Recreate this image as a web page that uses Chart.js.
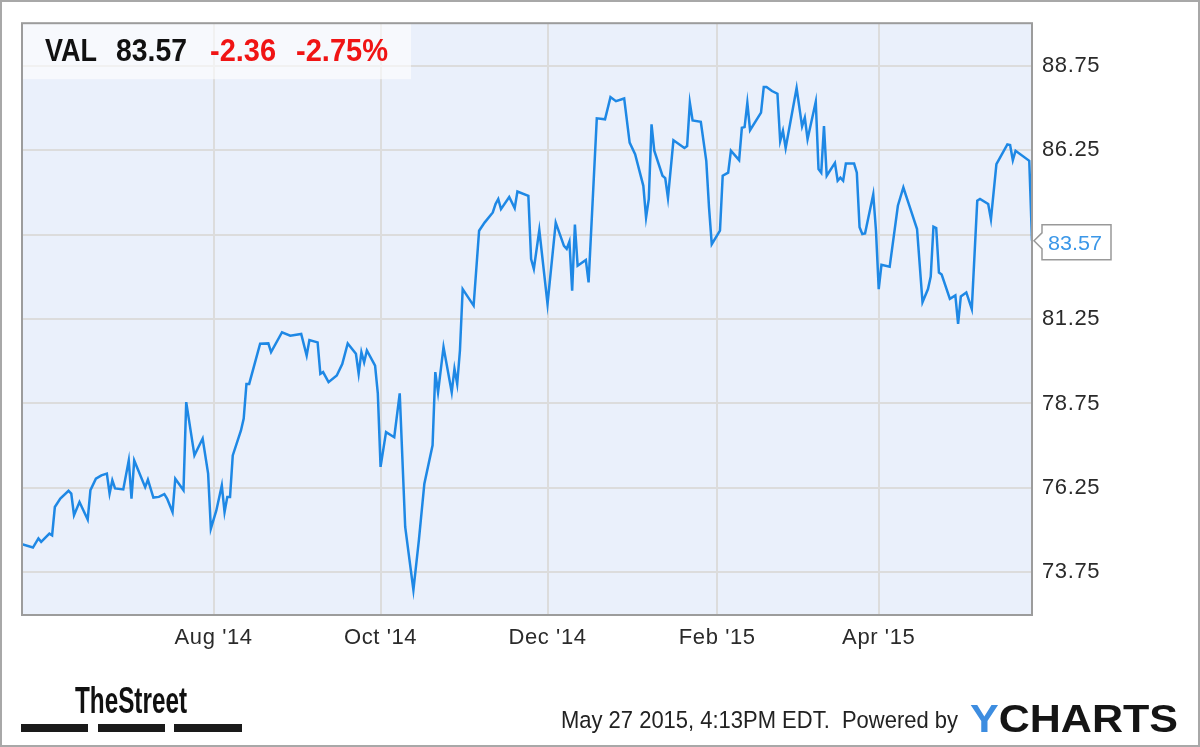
<!DOCTYPE html>
<html>
<head>
<meta charset="utf-8">
<script src="https://cdn.jsdelivr.net/npm/chart.js@4.4.1/dist/chart.umd.min.js"></script>
<style>
  html, body { margin: 0; padding: 0; background: #fff; }
  #wrap { width: 1200px; height: 747px; }
</style>
</head>
<body>
<div id="wrap"><canvas id="myChart" width="1200" height="747"></canvas></div>
<script>
// VAL daily close
var dates = [
  '2014-05-23','2014-05-27','2014-05-29','2014-05-30','2014-06-02','2014-06-03','2014-06-04','2014-06-06',
  '2014-06-09','2014-06-10','2014-06-11','2014-06-13','2014-06-16','2014-06-17','2014-06-19','2014-06-21',
  '2014-06-23','2014-06-24','2014-06-25','2014-06-26','2014-06-29','2014-07-01','2014-07-02','2014-07-03',
  '2014-07-07','2014-07-08','2014-07-10','2014-07-12','2014-07-14','2014-07-15','2014-07-17','2014-07-18',
  '2014-07-21','2014-07-22','2014-07-25','2014-07-28','2014-07-30','2014-07-31','2014-08-02','2014-08-04',
  '2014-08-05','2014-08-06','2014-08-07','2014-08-08','2014-08-11','2014-08-12','2014-08-13','2014-08-14',
  '2014-08-18','2014-08-21','2014-08-22','2014-08-26','2014-08-29','2014-09-02','2014-09-04','2014-09-05',
  '2014-09-08','2014-09-09','2014-09-10','2014-09-12','2014-09-15','2014-09-17','2014-09-19','2014-09-22',
  '2014-09-23','2014-09-24','2014-09-25','2014-09-26','2014-09-29','2014-09-30','2014-10-01','2014-10-03',
  '2014-10-06','2014-10-08','2014-10-10','2014-10-13','2014-10-15','2014-10-17','2014-10-20','2014-10-21',
  '2014-10-22','2014-10-24','2014-10-27','2014-10-28','2014-10-29','2014-10-30','2014-10-31','2014-11-04',
  '2014-11-06','2014-11-08','2014-11-11','2014-11-12','2014-11-13','2014-11-14','2014-11-17','2014-11-19',
  '2014-11-20','2014-11-24','2014-11-25','2014-11-26','2014-11-28','2014-12-01','2014-12-04','2014-12-07',
  '2014-12-08','2014-12-09','2014-12-10','2014-12-11','2014-12-12','2014-12-15','2014-12-16','2014-12-19',
  '2014-12-22','2014-12-24','2014-12-26','2014-12-29','2014-12-31','2015-01-02','2015-01-05','2015-01-06',
  '2015-01-07','2015-01-08','2015-01-09','2015-01-12','2015-01-13','2015-01-14','2015-01-16','2015-01-20',
  '2015-01-21','2015-01-22','2015-01-23','2015-01-26','2015-01-28','2015-01-29','2015-01-30','2015-02-02',
  '2015-02-03','2015-02-05','2015-02-06','2015-02-09','2015-02-10','2015-02-11','2015-02-12','2015-02-13',
  '2015-02-17','2015-02-18','2015-02-19','2015-02-21','2015-02-23','2015-02-24','2015-02-25','2015-02-26',
  '2015-03-02','2015-03-04','2015-03-05','2015-03-06','2015-03-09','2015-03-10','2015-03-11','2015-03-12',
  '2015-03-13','2015-03-16','2015-03-17','2015-03-18','2015-03-19','2015-03-20','2015-03-23','2015-03-24',
  '2015-03-25','2015-03-26','2015-03-27','2015-03-30','2015-03-31','2015-04-01','2015-04-02','2015-04-05',
  '2015-04-08','2015-04-10','2015-04-12','2015-04-15','2015-04-17','2015-04-19','2015-04-20','2015-04-21',
  '2015-04-22','2015-04-23','2015-04-24','2015-04-27','2015-04-29','2015-04-30','2015-05-01','2015-05-03',
  '2015-05-05','2015-05-07','2015-05-08','2015-05-11','2015-05-12','2015-05-14','2015-05-18','2015-05-19',
  '2015-05-20','2015-05-21','2015-05-26','2015-05-27'
]
var prices = [
  74.58, 74.48, 74.75, 74.65, 74.89, 74.84, 75.68, 75.93,
  76.16, 76.08, 75.44, 75.83, 75.31, 76.18, 76.52, 76.62,
  76.67, 76.08, 76.47, 76.23, 76.20, 77.06, 75.93, 77.06,
  76.27, 76.49, 75.96, 75.98, 76.06, 75.93, 75.53, 76.52,
  76.18, 78.79, 77.21, 77.71, 76.67, 75.04, 75.58, 76.32,
  75.53, 75.98, 75.98, 77.21, 77.95, 78.30, 79.33, 79.33,
  80.52, 80.53, 80.27, 80.86, 80.76, 80.81, 80.17, 80.63,
  80.56, 79.63, 79.68, 79.38, 79.58, 79.92, 80.53, 80.22,
  79.63, 80.27, 79.97, 80.32, 79.87, 79.04, 76.87, 77.90,
  77.75, 79.05, 75.09, 73.22, 74.70, 76.37, 77.51, 79.68,
  79.08, 80.42, 79.08, 79.78, 79.33, 80.32, 82.14, 81.65,
  83.87, 84.11, 84.41, 84.66, 84.81, 84.51, 84.87, 84.54,
  85.03, 84.90, 83.03, 82.74, 83.89, 81.70, 84.11, 83.42,
  83.33, 83.55, 82.09, 84.05, 82.83, 83.00, 82.34, 87.20,
  87.17, 87.83, 87.71, 87.79, 86.48, 86.14, 85.20, 84.26,
  84.81, 87.02, 86.24, 85.50, 85.43, 84.84, 86.55, 86.32,
  86.38, 87.66, 87.14, 87.10, 85.94, 84.56, 83.47, 83.87,
  85.50, 85.59, 86.24, 85.96, 86.92, 86.94, 87.66, 86.85,
  87.37, 88.13, 88.13, 88.01, 87.93, 86.53, 86.83, 86.32,
  88.10, 86.96, 87.22, 86.58, 87.69, 85.70, 85.59, 86.97,
  85.50, 85.88, 85.35, 85.44, 85.35, 85.86, 85.86, 85.59,
  83.97, 83.77, 83.79, 84.95, 83.87, 82.14, 82.86, 82.80,
  84.61, 85.15, 84.66, 83.92, 81.75, 82.14, 82.51, 83.99,
  83.95, 82.63, 82.57, 81.85, 81.95, 81.11, 81.92, 82.04,
  81.55, 84.76, 84.81, 84.66, 84.21, 85.84, 86.43, 86.41,
  85.96, 86.24, 85.94, 83.57
]
var tickDates = ['2014-08-01', '2014-10-01', '2014-12-01', '2015-02-01', '2015-04-01']
var tickLabels = ["Aug '14", "Oct '14", "Dec '14", "Feb '15", "Apr '15"]
var priceTicks = [73.75, 76.25, 78.75, 81.25, 83.75, 86.25, 88.75]

var ticker = 'VAL'
var lastPrice = 83.57
var change = '-2.36'
var changePct = '-2.75%'
var stamp = 'May 27 2015, 4:13PM EDT.  Powered by'

var FONT = '"Liberation Sans", Arial, sans-serif'

function dayNum(s) {
  var p = s.split('-')
  return Date.UTC(+p[0], +p[1] - 1, +p[2]) / 86400000
}

// draw text squeezed/stretched to a given width (and optional vertical stretch)
function fitText(ctx, text, x, baseline, width, font, color, sy) {
  ctx.save()
  ctx.letterSpacing = '0px'
  ctx.font = font
  ctx.fillStyle = color
  ctx.textAlign = 'left'
  ctx.textBaseline = 'alphabetic'
  var w = ctx.measureText(text).width
  ctx.translate(x, baseline)
  ctx.scale(width / w, sy || 1)
  ctx.fillText(text, 0, 0)
  ctx.restore()
}

var points = []
for (var i in dates) {
  points.push({ x: dayNum(dates[i]), y: prices[i] })
}

var decor = {
  id: 'decor',
  beforeDraw: function(chart) {
    var ctx = chart.ctx, a = chart.chartArea
    ctx.save()
    ctx.fillStyle = '#ffffff'
    ctx.fillRect(0, 0, chart.width, chart.height)
    ctx.fillStyle = '#eaf0fb'
    ctx.fillRect(a.left, a.top, a.right - a.left, a.bottom - a.top)
    ctx.restore()
    // spaced tick lettering
    ctx.letterSpacing = '0.6px'
  },
  afterDraw: function(chart) {
    var ctx = chart.ctx, a = chart.chartArea
    ctx.letterSpacing = '0px'
    ctx.save()

    // quote box
    ctx.fillStyle = 'rgba(255,255,255,0.6)'
    ctx.fillRect(a.left, a.top, 389, 56)
    var hf = 'bold 26px ' + FONT
    fitText(ctx, ticker, 45, 61, 52, hf, '#111', 1.18)
    fitText(ctx, lastPrice.toFixed(2), 116, 61, 71, hf, '#111', 1.18)
    fitText(ctx, change, 210, 61, 66, hf, '#f01414', 1.18)
    fitText(ctx, changePct, 296, 61, 92, hf, '#f01414', 1.18)

    // plot frame
    ctx.strokeStyle = '#9c9c9c'
    ctx.lineWidth = 2
    ctx.strokeRect(a.left, a.top, a.right - a.left, a.bottom - a.top)

    // last price flag
    var py = chart.scales.y.getPixelForValue(lastPrice)
    var bx = a.right + 10
    ctx.beginPath()
    ctx.moveTo(bx, py - 16)
    ctx.lineTo(bx + 69, py - 16)
    ctx.lineTo(bx + 69, py + 19)
    ctx.lineTo(bx, py + 19)
    ctx.lineTo(bx, py + 8)
    ctx.lineTo(a.right + 2, py)
    ctx.lineTo(bx, py - 8)
    ctx.closePath()
    ctx.fillStyle = '#ffffff'
    ctx.fill()
    ctx.strokeStyle = '#999'
    ctx.lineWidth = 1.5
    ctx.stroke()
    fitText(ctx, lastPrice.toFixed(2), bx + 6, py + 9, 54, '21px ' + FONT, '#3b97e8')

    // TheStreet logo
    fitText(ctx, 'TheStreet', 75, 713, 112, 'bold 36px "Liberation Sans Narrow", ' + FONT, '#111')
    ctx.fillStyle = '#1a1a1a'
    ctx.fillRect(21, 724, 67, 8)
    ctx.fillRect(98, 724, 67, 8)
    ctx.fillRect(174, 724, 68, 8)

    // footer
    fitText(ctx, stamp, 561, 728, 397, '21px ' + FONT, '#222', 1.1)
    ctx.font = 'bold 39px ' + FONT
    var full = ctx.measureText('YCHARTS').width
    var yw = ctx.measureText('Y').width
    var k = 208 / full
    fitText(ctx, 'Y', 970, 732, yw * k, 'bold 39px ' + FONT, '#3d8de0')
    fitText(ctx, 'CHARTS', 970 + yw * k, 732, (full - yw) * k, 'bold 39px ' + FONT, '#151515')

    // outer frame
    ctx.strokeStyle = '#a8a8a8'
    ctx.lineWidth = 2
    ctx.strokeRect(1, 1, chart.width - 2, chart.height - 2)
    ctx.restore()
  }
}

var ctx = document.getElementById('myChart')
var myChart = new Chart(ctx, {
  type: 'line',
  data: {
    datasets: [{
      data: points,
      borderColor: '#1e88e5',
      borderWidth: 2.5,
      // 折れ線のカーブ
      lineTension: 0,
      fill: false,
      pointRadius: 0
    }]
  },
  options: {
    responsive: false,
    animation: false,
    layout: { padding: { left: 22, top: 21, right: 0, bottom: 0 } },
    plugins: { legend: { display: false }, tooltip: { enabled: false } },
    scales: {
      x: {
        type: 'linear',
        min: dayNum(dates[0]),
        max: dayNum(dates[dates.length - 1]),
        afterBuildTicks: function(scale) {
          scale.ticks = tickDates.map(function(d) { return { value: dayNum(d) } })
        },
        afterFit: function(scale) { scale.height = 132 },
        grid: { color: '#dcdcdc', lineWidth: 2, drawTicks: false },
        border: { display: false },
        ticks: {
          autoSkip: false,
          maxRotation: 0,
          padding: 10,
          color: '#2a2a2a',
          font: { family: FONT, size: 22 },
          callback: function(v, i) { return tickLabels[i] }
        }
      },
      y: {
        position: 'right',
        min: 72.48,
        max: 90.02,
        afterBuildTicks: function(scale) {
          scale.ticks = priceTicks.map(function(v) { return { value: v } })
        },
        afterFit: function(scale) { scale.width = 168 },
        grid: { color: '#dcdcdc', lineWidth: 2, drawTicks: false },
        border: { display: false },
        ticks: {
          padding: 10,
          color: '#2a2a2a',
          font: { family: FONT, size: 22 },
          callback: function(v) { return v.toFixed(2) }
        }
      }
    }
  },
  plugins: [decor]
})
</script>
</body>
</html>
